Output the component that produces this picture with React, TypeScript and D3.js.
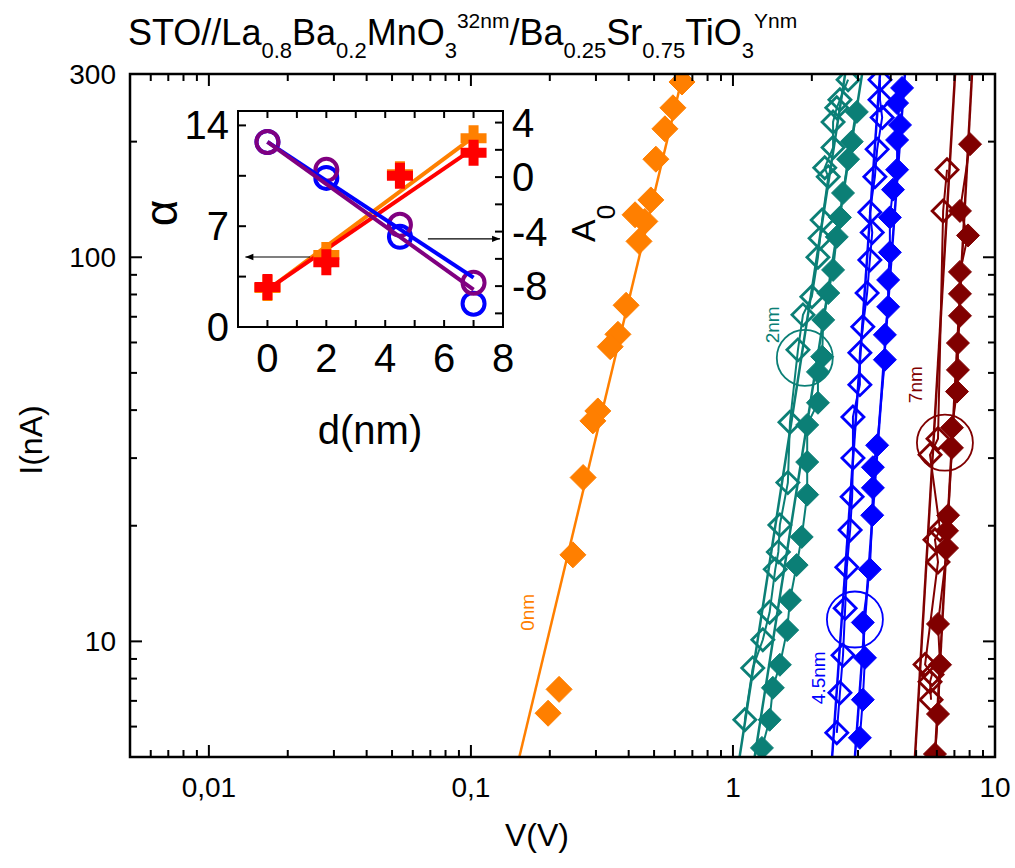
import React from 'react'
import * as d3 from 'd3'

const FONT = '"Liberation Sans", Arial, sans-serif'

// main panel: I(V) curves, [V (V), I (nA)]
const orange0nm = [
	[0.639, 286], [0.590, 245], [0.550, 216], [0.508, 180], [0.486, 141], [0.423, 129],
	[0.461, 124], [0.438, 110], [0.391, 75], [0.364, 63], [0.340, 58.5], [0.305, 39.8],
	[0.292, 37.5], [0.268, 26.7], [0.245, 16.8], [0.217, 7.5], [0.197, 6.5],
]
const teal2nmOpen = [
	[2.75, 290], [2.56, 257], [2.49, 245], [2.41, 225], [2.41, 193], [2.24, 171], [2.31, 162],
	[2.19, 125], [2.15, 112], [2.11, 100], [2.00, 78.9], [1.85, 70.8], [1.77, 57.4], [1.65, 37.2],
	[1.62, 25.9], [1.51, 20.1], [1.49, 17.1], [1.45, 15.4], [1.38, 11.9], [1.30, 10.1],
	[1.19, 8.53], [1.11, 6.25],
]
const teal2nmFilled = [
	[2.97, 239], [2.84, 200], [2.75, 180], [2.63, 147], [2.56, 127], [2.49, 113], [2.41, 92.7],
	[2.31, 80.7], [2.21, 68.7], [2.19, 55.1], [2.11, 50.3], [2.11, 41.8], [1.92, 36.6],
	[1.92, 29.3], [1.92, 24.1], [1.83, 18.7], [1.75, 15.8], [1.65, 12.8], [1.61, 10.7],
	[1.51, 8.69], [1.42, 7.57], [1.38, 6.25], [1.29, 5.28],
]
const blue45nmOpen = [
	[3.64, 290], [3.64, 257], [3.71, 231], [3.55, 191], [3.48, 162], [3.33, 131], [3.40, 116],
	[3.33, 98.4], [3.25, 80.7], [3.13, 65.9], [3.05, 56.4], [3.05, 46.6], [2.87, 38.4],
	[2.87, 30.0], [2.85, 23.8], [2.80, 19.5], [2.72, 15.6], [2.68, 12.2], [2.63, 9.2],
	[2.56, 7.35], [2.49, 5.78],
]
const blue45nmFilled = [
	[4.42, 276], [4.23, 252], [4.34, 221], [4.23, 202], [4.23, 169], [4.08, 150], [3.97, 127],
	[3.97, 103], [3.91, 87.3], [3.91, 74.3], [3.80, 62.8], [3.80, 54.1], [3.55, 32.4],
	[3.42, 28.4], [3.42, 25.1], [3.40, 21.3], [3.33, 15.4], [3.13, 11.2], [3.19, 9.06],
	[3.13, 7.05], [3.05, 5.61],
]
const red7nmOpen = [
	[6.56, 169], [6.34, 132], [6.06, 33.7], [5.65, 30.6], [6.17, 19.5], [5.90, 18.4],
	[6.06, 16.1], [5.41, 8.7], [5.75, 8.2], [5.65, 7.85], [5.70, 7.05],
]
const red7nmFilled = [
	[8.03, 197], [7.35, 132], [7.89, 114], [7.35, 91.6], [7.35, 80.3], [7.35, 70.4], [7.22, 59.8],
	[7.22, 50.9], [7.16, 44.7], [6.85, 36.0], [6.85, 31.9], [6.62, 21.3], [6.56, 19.4],
	[6.56, 17.5], [6.06, 11.1], [6.17, 8.69], [6.06, 6.47], [5.90, 5.09],
]

// power-law fits, end points [V, I]
const orangeFit = [[0.153, 5], [0.645, 300]]
const tealOpenFit = [[1.06, 5], [2.68, 300]]
const tealFilledFit = [[1.21, 5], [3.11, 300]]
const blueOpenFit = [[2.39, 5], [3.64, 300]]
const blueFilledFit = [[2.92, 5], [4.53, 300]]
const redOpenFit = [[4.95, 5], [7.04, 300]]
const redFilledFit = [[5.90, 5], [8.17, 300]]

// thickness labels and marked points [V, I]
const thicknessLabels = ['0nm', '2nm', '4.5nm', '7nm']
const labelAt = [[0.164, 11.9], [1.41, 66.7], [2.11, 8.04], [4.95, 46.6]]
const ringAt = [null, [1.88, 54.7], [2.92, 11.4], [6.44, 32.9]]

const xTickLabels = ['0,01', '0,1', '1', '10']
const yTickLabels = ['10', '100', '300']

// inset: alpha and A0 against barrier thickness d
const insetD = [0, 2, 4.5, 7]
const alphaOrange = [2.7, 5.0, 10.6, 13.1]
const alphaRed = [2.78, 4.5, 10.5, 12.1]
const a0Blue = [2.58, -0.06, -4.38, -9.29]
const a0Purple = [2.58, 0.53, -3.5, -7.75]
const fitD = [0, 7]
const alphaOrangeFit = [2.57, 13.2]
const alphaRedFit = [2.6, 12.4]
const a0BlueFit = [2.58, -7.38]
const a0PurpleFit = [2.58, -8.26]
const insetXTicks = [0, 2, 4, 6, 8]
const alphaTicks = [0, 7, 14]
const a0Ticks = [-8, -4, 0, 4]

const COL = {
	orange: '#FF7F00',
	teal: '#0B7F76',
	blue: '#0000FF',
	red: '#800000',
	insetRed: '#FF0000',
	insetOrange: '#FF8000',
	purple: '#800080',
}

const isDecade = (t) => Math.abs(Math.log10(t) - Math.round(Math.log10(t))) < 1e-6

const diamond = (cx, cy, s) => `M${cx},${cy - s}L${cx + s},${cy}L${cx},${cy + s}L${cx - s},${cy}Z`
const plus = (cx, cy, a, b) =>
	`M${cx - b},${cy - a}H${cx + b}V${cy - b}H${cx + a}V${cy + b}H${cx + b}V${cy + a}H${cx - b}V${cy + b}H${cx - a}V${cy - b}H${cx - b}Z`

export default function App() {
	const L = 130, R = 995, T = 74, B = 757
	const x = d3.scaleLog().domain([0.005, 10]).range([L, R])
	const y = d3.scaleLog().domain([5, 300]).range([B, T])

	const series = [
		{data: orange0nm, fit: orangeFit, color: COL.orange, open: false, size: 13, join: false},
		{data: teal2nmOpen, fit: tealOpenFit, color: COL.teal, open: true, size: 11, join: true},
		{data: teal2nmFilled, fit: tealFilledFit, color: COL.teal, open: false, size: 11.5, join: true},
		{data: blue45nmOpen, fit: blueOpenFit, color: COL.blue, open: true, size: 11, join: true},
		{data: blue45nmFilled, fit: blueFilledFit, color: COL.blue, open: false, size: 11.5, join: true},
		{data: red7nmOpen, fit: redOpenFit, color: COL.red, open: true, size: 11, join: true},
		{data: red7nmFilled, fit: redFilledFit, color: COL.red, open: false, size: 11.5, join: true},
	]
	const labelColors = [COL.orange, COL.teal, COL.blue, COL.red]

	const line = d3.line().x(d => x(d[0])).y(d => y(d[1]))

	const xTicks = x.ticks()
	const yTicks = y.ticks()

	// inset scales
	const iL = 238, iR = 503, iT = 111, iB = 327
	const ix = d3.scaleLinear().domain([-1, 8]).range([iL, iR])
	const ia = d3.scaleLinear().domain([0, 15]).range([iB, iT])
	const iA = d3.scaleLinear().domain([-11, 4.85]).range([iB, iT])

	return (
		<svg width={1015} height={868} style={{display: 'block', position: 'absolute', left: 0, top: 0}} fontFamily={FONT}>
			<defs>
				<clipPath id="plot"><rect x={L} y={T} width={R - L} height={B - T}/></clipPath>
				<marker id="arr" viewBox="0 0 10 10" refX="10" refY="5" markerWidth="12" markerHeight="8" markerUnits="userSpaceOnUse" orient="auto">
					<path d="M0,1L10,5L0,9Z" fill="#000"/>
				</marker>
			</defs>
			<rect width={1015} height={868} fill="#fff"/>

			{/* title */}
			<text x={128} y={45} fontSize={36} fill="#000">
				STO//La<tspan dy={13} fontSize={22}>0.8</tspan>
				<tspan dy={-13}>Ba</tspan><tspan dy={13} fontSize={22}>0.2</tspan>
				<tspan dy={-13}>MnO</tspan><tspan dy={13} fontSize={22}>3</tspan>
				<tspan dy={-30} fontSize={21}>32nm</tspan>
				<tspan dy={17}>/Ba</tspan><tspan dy={13} fontSize={22}>0.25</tspan>
				<tspan dy={-13}>Sr</tspan><tspan dy={13} fontSize={22}>0.75</tspan>
				<tspan dy={-13}>TiO</tspan><tspan dy={13} fontSize={22}>3</tspan>
				<tspan dy={-30} fontSize={21}>Ynm</tspan>
			</text>

			{/* data */}
			<g clipPath="url(#plot)">
				{series.map((s, k) => (
					<g key={`s-${k}`}>
						<path d={line(s.fit)} stroke={s.color} strokeWidth={2.5} fill="none"/>
						{s.join ? (
							<path d={line([...s.data].sort((a, b) => a[1] - b[1]))} stroke={s.color} strokeWidth={2} fill="none"/>
						) : null}
						{s.data.map((d, i) => (
							<path
								key={`m-${k}-${i}`}
								d={diamond(x(d[0]), y(d[1]), s.size)}
								fill={s.open ? 'none' : s.color}
								stroke={s.color}
								strokeWidth={s.open ? 2.8 : 1}
								strokeLinejoin="miter"
							/>
						))}
					</g>
				))}
				{ringAt.map((c, i) => c ? (
					<circle key={`r-${i}`} cx={x(c[0])} cy={y(c[1])} r={28} fill="none" stroke={labelColors[i]} strokeWidth={1.8}/>
				) : null)}
			</g>
			{thicknessLabels.map((t, i) => (
				<text
					key={`lab-${i}`}
					transform={`translate(${x(labelAt[i][0])},${y(labelAt[i][1])}) rotate(-90)`}
					textAnchor="middle"
					dy="0.35em"
					fontSize={19}
					fill={labelColors[i]}
				>{t}</text>
			))}

			{/* main frame and ticks */}
			<rect x={L} y={T} width={R - L} height={B - T} fill="none" stroke="#000" strokeWidth={2.5}/>
			{xTicks.map((t, i) => {
				const len = isDecade(t) ? 12 : 7
				return (
					<g key={`xt-${i}`} stroke="#000" strokeWidth={2}>
						<line x1={x(t)} x2={x(t)} y1={B} y2={B - len}/>
						<line x1={x(t)} x2={x(t)} y1={T} y2={T + len}/>
					</g>
				)
			})}
			{yTicks.map((t, i) => {
				const len = isDecade(t) ? 12 : 7
				return (
					<g key={`yt-${i}`} stroke="#000" strokeWidth={2}>
						<line x1={L} x2={L + len} y1={y(t)} y2={y(t)}/>
						<line x1={R} x2={R - len} y1={y(t)} y2={y(t)}/>
					</g>
				)
			})}
			{xTickLabels.map((t, i) => (
				<text key={`xl-${i}`} x={x(Number(t.replace(',', '.')))} y={797} textAnchor="middle" fontSize={28}>{t}</text>
			))}
			{yTickLabels.map((t, i) => (
				<text key={`yl-${i}`} x={116} y={y(Number(t))} dy="0.35em" textAnchor="end" fontSize={28}>{t}</text>
			))}
			<text x={537} y={846} textAnchor="middle" fontSize={32}>V(V)</text>
			<text transform="translate(42,440) rotate(-90)" textAnchor="middle" fontSize={32}>I(nA)</text>

			{/* inset */}
			<g>
				<rect x={iL} y={iT} width={iR - iL} height={iB - iT} fill="#fff" stroke="#000" strokeWidth={2}/>
				{d3.range(-1, 9).map(t => (
					<g key={`ixt-${t}`} stroke="#000" strokeWidth={2}>
						<line x1={ix(t)} x2={ix(t)} y1={iB} y2={iB - 7}/>
						<line x1={ix(t)} x2={ix(t)} y1={iT} y2={iT + 7}/>
					</g>
				))}
				{d3.range(0, 15, 3.5).map(t => (
					<line key={`iat-${t}`} x1={iL} x2={iL + 8} y1={ia(t)} y2={ia(t)} stroke="#000" strokeWidth={2}/>
				))}
				{d3.range(-10, 5, 2).map(t => (
					<line key={`iAt-${t}`} x1={iR} x2={iR - 8} y1={iA(t)} y2={iA(t)} stroke="#000" strokeWidth={2}/>
				))}
				{insetXTicks.map(t => (
					<text key={`ixl-${t}`} x={ix(t)} y={372} textAnchor="middle" fontSize={40}>{t}</text>
				))}
				{alphaTicks.map(t => (
					<text key={`ial-${t}`} x={229} y={ia(t)} dy="0.35em" textAnchor="end" fontSize={40}>{t}</text>
				))}
				{a0Ticks.map(t => (
					<text key={`iAl-${t}`} x={512} y={iA(t)} dy="0.35em" textAnchor="start" fontSize={40}>{t}</text>
				))}
				<text x={370} y={444} textAnchor="middle" fontSize={40}>d(nm)</text>
				<text transform="translate(177,213) rotate(-90)" textAnchor="middle" fontSize={46}>α</text>
				<text transform="translate(595,242) rotate(-90)" textAnchor="start" fontSize={34}>
					A<tspan dy={20} fontSize={26}>0</tspan>
				</text>

				{/* fits */}
				<path d={d3.line()(fitD.map((d, i) => [ix(d), ia(alphaOrangeFit[i])]))} stroke={COL.insetOrange} strokeWidth={4} fill="none"/>
				<path d={d3.line()(fitD.map((d, i) => [ix(d), ia(alphaRedFit[i])]))} stroke={COL.insetRed} strokeWidth={4} fill="none"/>
				{insetD.map((d, i) => (
					<path key={`co-${i}`} d={plus(ix(d), ia(alphaOrange[i]), 13, 5)} fill={COL.insetOrange}/>
				))}
				{insetD.map((d, i) => (
					<path key={`cr-${i}`} d={plus(ix(d), ia(alphaRed[i]), 13, 5)} fill={COL.insetRed}/>
				))}
				{insetD.map((d, i) => (
					<circle key={`cb-${i}`} cx={ix(d)} cy={iA(a0Blue[i])} r={11} fill="none" stroke={COL.blue} strokeWidth={4}/>
				))}
				{insetD.map((d, i) => (
					<circle key={`cp-${i}`} cx={ix(d)} cy={iA(a0Purple[i])} r={11} fill="none" stroke={COL.purple} strokeWidth={4}/>
				))}
				<path d={d3.line()(fitD.map((d, i) => [ix(d), iA(a0BlueFit[i])]))} stroke={COL.blue} strokeWidth={4} fill="none"/>
				<path d={d3.line()(fitD.map((d, i) => [ix(d), iA(a0PurpleFit[i])]))} stroke={COL.purple} strokeWidth={4} fill="none"/>

				{/* axis arrows */}
				<line x1={ix(1.45)} x2={ix(-0.75)} y1={ia(4.86)} y2={ia(4.86)} stroke="#000" strokeWidth={1.2} markerEnd="url(#arr)"/>
				<line x1={ix(5.45)} x2={ix(7.9)} y1={iA(-4.53)} y2={iA(-4.53)} stroke="#000" strokeWidth={1.2} markerEnd="url(#arr)"/>
			</g>
		</svg>
	)
}
